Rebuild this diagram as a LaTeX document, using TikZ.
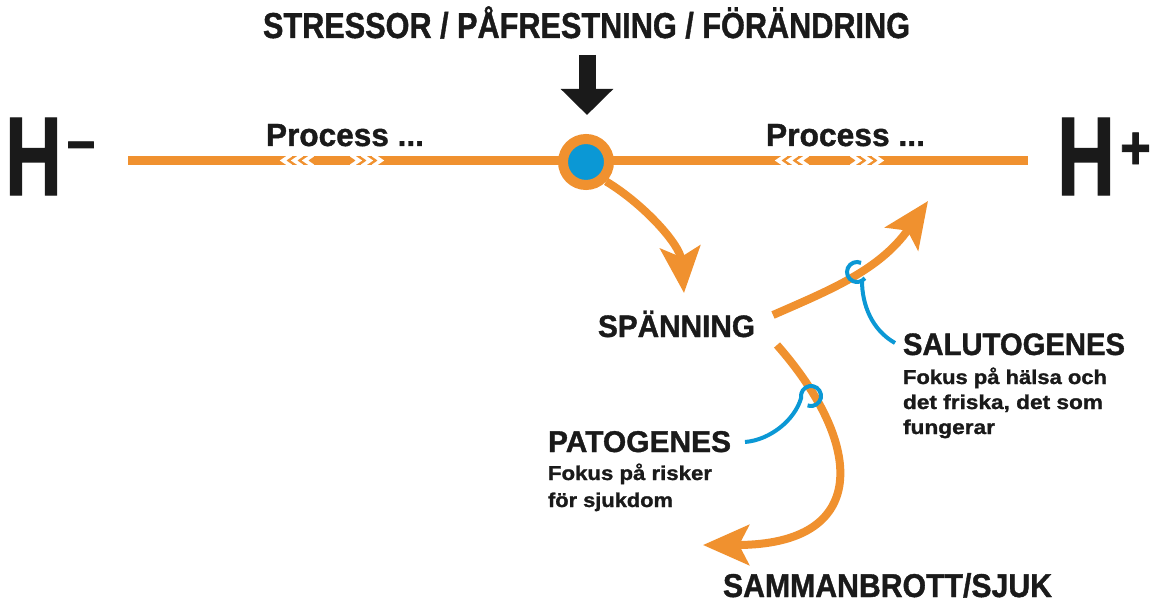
\documentclass[tikz,border=0pt]{standalone}
\usepackage{fontspec}
\setmainfont{Liberation Sans}
\newfontfamily\heavy{Liberation Sans}[BoldFeatures={FakeBold=1.2}]
\usetikzlibrary{arrows.meta,calc}
\definecolor{org}{HTML}{F0912F}
\definecolor{blu}{HTML}{0B98D5}
\definecolor{ink}{HTML}{1A1A1A}
\newcommand\fitw[2]{\resizebox{#1}{\height}{#2}}
\begin{document}
\begin{tikzpicture}[x=1pt,y=-1pt,
  lbl/.style={anchor=base west, inner sep=0pt, outer sep=0pt, text=ink, font=\heavy\bfseries},
  oline/.style={draw=org, line width=9pt},
  oarrow/.style={draw=org, line width=8pt, -{Stealth[length=46pt,width=40pt,inset=10pt]}},
  hook/.style={draw=blu, line width=4pt},
  chev/.style={draw=white, line width=3.6pt}]
\useasboundingbox[fill=white] (0,0) rectangle (1153,604);

% title
\node[lbl] (title) at (263,38) {\fitw{647pt}{\fontsize{36}{36}\selectfont STRESSOR / PÅFRESTNING / FÖRÄNDRING}};

% H- and H+
\node[lbl] (hminus) at (5,195) {\resizebox{57pt}{77pt}{\fontsize{100}{100}\selectfont H}};
\node[lbl] (hmsign) at (67,162) {\fitw{28pt}{\fontsize{64}{64}\selectfont –}};
\node[lbl] (hplus) at (1057,195) {\resizebox{58pt}{77pt}{\fontsize{100}{100}\selectfont H}};
\node[lbl] (hpsign) at (1120,169) {\fitw{31pt}{\fontsize{62}{62}\selectfont +}};

% main line
\coordinate (lineL) at (128,160.5);
\coordinate (lineR) at (1028,160.5);
\draw[oline] (lineL) -- (lineR);
\begin{scope}
\clip (128,156) rectangle (1028,165);
\foreach \x in {283,294,305} \draw[chev] ({\x+8},155) -- (\x,160.5) -- ({\x+8},166);
\foreach \x in {351,362,373} \draw[chev] (\x,155) -- ({\x+8},160.5) -- (\x,166);
\foreach \x in {778,789,800} \draw[chev] ({\x+8},155) -- (\x,160.5) -- ({\x+8},166);
\foreach \x in {851,862,873} \draw[chev] (\x,155) -- ({\x+8},160.5) -- (\x,166);
\end{scope}

\node[lbl] (procL) at (266,146) {\fitw{158pt}{\fontsize{32}{32}\selectfont Process ...}};
\node[lbl] (procR) at (766,146) {\fitw{159pt}{\fontsize{32}{32}\selectfont Process ...}};

% hub
\node[circle, draw=org, line width=10pt, fill=blu, minimum size=46pt, inner sep=0pt] (hub) at (586,162) {};

% stress arrow
\coordinate (stressTop) at (587,55);
\coordinate (stressTip) at (587,115);
\draw[draw=ink, line width=17pt, -{Triangle[length=26pt,width=51pt]}] (stressTop) -- (stressTip);

% labels
\node[lbl] (spann) at (598,337) {\fitw{157pt}{\fontsize{31}{31}\selectfont SPÄNNING}};
\node[lbl] (sal) at (903,355) {\fitw{222pt}{\fontsize{31}{31}\selectfont SALUTOGENES}};
\node[lbl] (salA) at (903,384) {\fitw{204pt}{\fontsize{20}{20}\selectfont Fokus på hälsa och}};
\node[lbl] (salB) at (903,409) {\fitw{200pt}{\fontsize{20}{20}\selectfont det friska, det som}};
\node[lbl] (salC) at (903,434) {\fitw{92pt}{\fontsize{20}{20}\selectfont fungerar}};
\node[lbl] (pat) at (548,452) {\fitw{183pt}{\fontsize{30}{30}\selectfont PATOGENES}};
\node[lbl] (patA) at (548,480) {\fitw{164pt}{\fontsize{20}{20}\selectfont Fokus på risker}};
\node[lbl] (patB) at (548,507) {\fitw{125pt}{\fontsize{20}{20}\selectfont för sjukdom}};
\node[lbl] (samm) at (723,597) {\fitw{329pt}{\fontsize{33}{33}\selectfont SAMMANBROTT/SJUK}};

% orange arrows
\coordinate (spTip) at (684,293);
\draw[oarrow] (hub.-44) .. controls (645,205) and (680,245) .. (spTip);
\coordinate (salStart) at (773,315);
\coordinate (salTip) at (928,201);
\draw[oarrow] (salStart) .. controls (830,290) and (880,270) .. (salTip);
\coordinate (patStart) at (777,345);
\coordinate (sammTip) at (703,545);
\draw[oarrow] (patStart) .. controls (865,445) and (870,545) .. (sammTip);

% blue hooks
\coordinate (salLoop) at (857,272);
\coordinate (salEnd) at (895,343);
\draw[hook] ($(salLoop)+(-66:10)$) arc[start angle=-66, end angle=-322, radius=10];
\draw[hook] (salEnd) .. controls (872,330) and (862,305) .. ($(salLoop)+(60:10)$);
\coordinate (patLoop) at (811,396);
\coordinate (patEnd) at (745,442);
\draw[hook] (patEnd) .. controls (770,440) and (795,420) .. ($(patLoop)+(170:10)$) arc[start angle=170, end angle=470, radius=10];
\end{tikzpicture}
\end{document}
